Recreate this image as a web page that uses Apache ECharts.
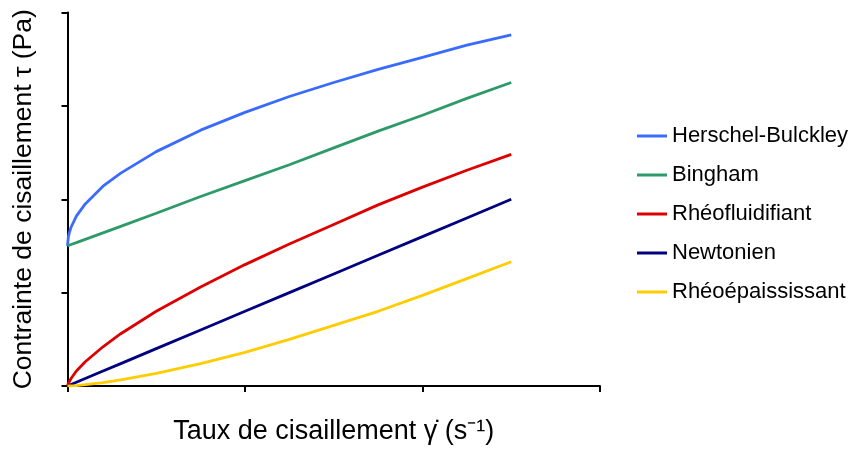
<!DOCTYPE html>
<html>
<head>
<meta charset="utf-8">
<script src="https://cdn.jsdelivr.net/npm/echarts@6/dist/echarts.min.js"></script>
<style>html,body{margin:0;padding:0;background:#fff}#c{width:854px;height:450px}</style>
</head>
<body>
<div id="c"></div>
<script>
// Shear rate values (x)
const shearRate = [0, 0.005, 0.01, 0.02, 0.05, 0.1, 0.2, 0.3, 0.5, 0.75, 1.0, 1.25, 1.5, 1.75, 2.0, 2.25, 2.5];
// Series names
const seriesNames = ['Herschel-Bulckley', 'Bingham', 'Rhéofluidifiant', 'Newtonien', 'Rhéoépaississant'];
// Stress values (y)
const herschelBulckley = [1.50, 1.60, 1.64, 1.70, 1.82, 1.95, 2.14, 2.28, 2.51, 2.74, 2.93, 3.10, 3.25, 3.39, 3.52, 3.65, 3.76];
const bingham          = [1.50, 1.505, 1.51, 1.515, 1.535, 1.57, 1.64, 1.71, 1.85, 2.03, 2.20, 2.37, 2.55, 2.73, 2.90, 3.08, 3.25];
const rheofluidifiant  = [0, 0.03, 0.05, 0.08, 0.16, 0.26, 0.42, 0.56, 0.80, 1.06, 1.30, 1.52, 1.73, 1.94, 2.13, 2.31, 2.48];
const newtonien        = [0, 0.004, 0.008, 0.016, 0.04, 0.08, 0.16, 0.24, 0.40, 0.60, 0.80, 1.00, 1.20, 1.40, 1.60, 1.80, 2.00];
const rheoepaississant = [0, 0, 0, 0.001, 0.005, 0.014, 0.037, 0.066, 0.135, 0.24, 0.36, 0.50, 0.65, 0.80, 0.97, 1.15, 1.33];
const colors = ['#3A6BFF', '#2E9A6A', '#DD0000', '#000080', '#FFCC00'];

const allValues = [herschelBulckley, bingham, rheofluidifiant, newtonien, rheoepaississant];
const chart = echarts.init(document.getElementById('c'));
const font = 'Liberation Sans, Arial, sans-serif';
chart.setOption({
  animation: false,
  backgroundColor: '#fff',
  grid: { left: 67.5, top: 12.5, right: 254, bottom: 63, containLabel: false },
  legend: {
    orient: 'vertical', left: 632, top: 120,
    icon: 'rect', itemWidth: 30, itemHeight: 3, itemGap: 17,
    textStyle: { fontFamily: font, fontSize: 22, color: '#000' },
    data: seriesNames
  },
  xAxis: {
    type: 'value', min: 0, max: 3, interval: 1,
    name: 'Taux de cisaillement γ\u0307 (s\u207B\u00B9)', nameLocation: 'middle', nameGap: 32,
    nameTextStyle: { fontFamily: font, fontSize: 27, color: '#000' },
    axisLine: { show: true, lineStyle: { color: '#000', width: 2 } },
    axisTick: { show: true, length: 6, lineStyle: { color: '#000', width: 2 } },
    axisLabel: { show: false }, splitLine: { show: false }
  },
  yAxis: {
    type: 'value', min: 0, max: 4, interval: 1,
    name: 'Contrainte de cisaillement τ (Pa)', nameLocation: 'middle', nameGap: 30,
    nameTextStyle: { fontFamily: font, fontSize: 26.5, color: '#000' },
    axisLine: { show: true, lineStyle: { color: '#000', width: 2 } },
    axisTick: { show: true, length: 6, lineStyle: { color: '#000', width: 2 } },
    axisLabel: { show: false }, splitLine: { show: false }
  },
  series: seriesNames.map((n, i) => ({
    name: n, type: 'line', showSymbol: false, symbol: 'none',
    smooth: false,
    color: colors[i],
    lineStyle: { width: 2.8, color: colors[i] },
    data: shearRate.map((x, j) => [x, allValues[i][j]])
  }))
});
</script>
</body>
</html>
